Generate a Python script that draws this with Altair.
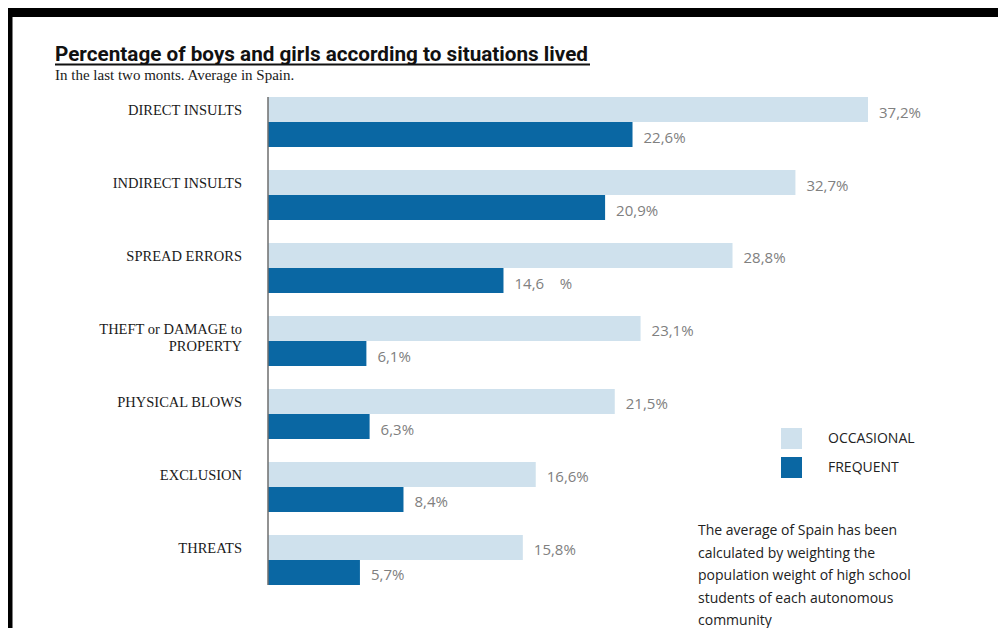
import altair as alt
import pandas as pd

# ---------------- data ----------------
categories = [
    "DIRECT INSULTS",
    "INDIRECT INSULTS",
    "SPREAD ERRORS",
    "THEFT or DAMAGE to\nPROPERTY",
    "PHYSICAL BLOWS",
    "EXCLUSION",
    "THREATS",
]
occasional = [37.2, 32.7, 28.8, 23.1, 21.5, 16.6, 15.8]
frequent = [22.6, 20.9, 14.6, 6.1, 6.3, 8.4, 5.7]
occasional_labels = ["37,2%", "32,7%", "28,8%", "23,1%", "21,5%", "16,6%", "15,8%"]
frequent_labels = ["22,6%", "20,9%", "14,6\u00a0\u00a0\u00a0\u00a0%", "6,1%", "6,3%", "8,4%", "5,7%"]
series = ["OCCASIONAL", "FREQUENT"]
colors = ["#cfe1ed", "#0a67a3"]

title_text = "Percentage of boys and girls according to situations lived"
subtitle_text = "In the last two monts. Average in Spain."
note_text = ("The average of Spain has been\ncalculated by weighting the\n"
             "population weight of high school\nstudents of each autonomous\ncommunity")

rows = []
for c, o, f, ol, fl in zip(categories, occasional, frequent, occasional_labels, frequent_labels):
    rows.append({"category": c, "series": series[0], "value": o, "label": ol})
    rows.append({"category": c, "series": series[1], "value": f, "label": fl})
df = pd.DataFrame(rows)
cat_df = pd.DataFrame({"category": categories})
zero_df = pd.DataFrame({"value": [0.0]})

W, H = 990, 620

xscale = alt.Scale(domain=[0, 37.2], range=[260, 860], nice=False, zero=True)
yscale = alt.Scale(domain=categories, range=[89, 577], paddingInner=0.315, paddingOuter=0)
yoff = alt.YOffset("series:N", scale=alt.Scale(domain=series, paddingInner=0))

bars = alt.Chart(df).mark_bar().encode(
    x=alt.X("value:Q", scale=xscale, axis=None),
    y=alt.Y("category:N", scale=yscale, axis=None),
    yOffset=yoff,
    color=alt.Color(
        "series:N",
        scale=alt.Scale(domain=series, range=colors),
        legend=alt.Legend(
            title=None, orient="none", legendX=773, legendY=420,
            symbolType="square", symbolSize=441, symbolStrokeWidth=0,
            symbolOpacity=1, labelFont="Open Sans", labelFontSize=14,
            labelOffset=26, rowPadding=8, labelColor="#222222", padding=0,
        ),
    ),
)

value_text = alt.Chart(df).mark_text(
    align="left", baseline="middle", dx=11, dy=3,
    font="Open Sans", fontSize=15, color="#808080",
).encode(
    x=alt.X("value:Q", scale=xscale, axis=None),
    y=alt.Y("category:N", scale=yscale, axis=None),
    yOffset=yoff,
    text="label:N",
)

axis_line = alt.Chart(zero_df).mark_rule(color="#6e6e6e", strokeWidth=1.5).encode(
    x=alt.X("value:Q", scale=xscale, axis=None),
    y=alt.value(89),
    y2=alt.value(577),
)

cat_text = alt.Chart(cat_df).mark_text(
    align="right", baseline="middle", dy=-11, lineBreak="\n", lineHeight=17,
    font="Liberation Serif", fontSize=14.5, color="#1a1a1a",
).encode(
    x=alt.value(234),
    y=alt.Y("category:N", scale=yscale, axis=None),
    text="category:N",
)

one = pd.DataFrame({"t": [title_text], "s": [subtitle_text], "n": [note_text]})

title = alt.Chart(one).mark_text(
    align="left", baseline="alphabetic",
    font="Roboto", fontSize=20.7, fontWeight="bold", color="#111111",
).encode(x=alt.value(47), y=alt.value(53), text="t:N")

underline = alt.Chart(one).mark_rule(color="#111111", strokeWidth=2).encode(
    x=alt.value(47), x2=alt.value(582), y=alt.value(56.5)
)

subtitle = alt.Chart(one).mark_text(
    align="left", baseline="alphabetic",
    font="Liberation Serif", fontSize=15, color="#1a1a1a",
).encode(x=alt.value(47), y=alt.value(72), text="s:N")

note = alt.Chart(one).mark_text(
    align="left", baseline="alphabetic", lineBreak="\n", lineHeight=22.5,
    font="Open Sans", fontSize=14, color="#222222",
).encode(x=alt.value(690), y=alt.value(527), text="n:N")

frame_top = alt.Chart(one).mark_rule(color="black", strokeWidth=9).encode(
    x=alt.value(0), x2=alt.value(W), y=alt.value(4.5)
)
frame_left = alt.Chart(one).mark_rule(color="black", strokeWidth=5).encode(
    x=alt.value(2), y=alt.value(0), y2=alt.value(H)
)

chart = alt.layer(
    bars, axis_line, value_text, cat_text, title, underline, subtitle, note,
    frame_top, frame_left,
).properties(
    width=W, height=H,
    autosize=alt.AutoSizeParams(type="none"),
    padding=0,
    background="white",
).configure_view(stroke=None)

chart.save("out.html", embed_options={"renderer": "svg", "actions": False})
